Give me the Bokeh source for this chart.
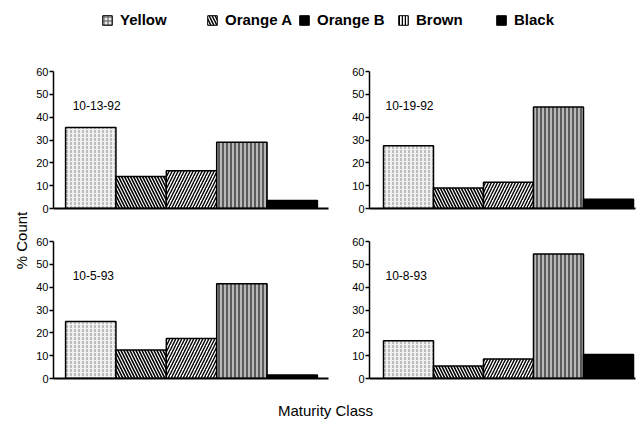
import math
from bokeh.plotting import figure
from bokeh.layouts import column, row
from bokeh.models import Range1d, Label, Legend, LegendItem, FixedTicker
from bokeh.embed import file_html
from bokeh.resources import INLINE

# ---------------- data ----------------
categories = ["Yellow", "Orange A", "Orange B", "Brown", "Black"]
dates = ["10-13-92", "10-19-92", "10-5-93", "10-8-93"]
yellow = [35.5, 27.5, 25, 16.5]
orange_a = [14, 9, 12.5, 5.5]
orange_b = [16.5, 11.5, 17.5, 8.5]
brown = [29, 44.5, 41.5, 54.5]
black = [3.5, 4, 1.5, 10.5]
y_ticks = [0, 10, 20, 30, 40, 50, 60]
y_label = "% Count"
x_label = "Maturity Class"

series = [yellow, orange_a, orange_b, brown, black]

FONT = "Liberation Sans"

styles = [
    dict(fill_color="#f0f0f0", hatch_pattern=":", hatch_color="#8a8a8a", hatch_scale=4, hatch_weight=1),
    dict(fill_color="white", hatch_pattern="\\", hatch_color="black", hatch_scale=6, hatch_weight=1.6),
    dict(fill_color="white", hatch_pattern="/", hatch_color="black", hatch_scale=6, hatch_weight=1.4),
    dict(fill_color="#b8b8b8", hatch_pattern="|", hatch_color="black", hatch_scale=4, hatch_weight=1),
    dict(fill_color="black", hatch_pattern=None),
]
legend_styles = [
    dict(fill_color="#e8e8e8", hatch_pattern="+", hatch_color="#555555", hatch_scale=4, hatch_weight=1),
    dict(fill_color="white", hatch_pattern="\\", hatch_color="black", hatch_scale=6, hatch_weight=1.5),
    dict(fill_color="black", hatch_pattern=None),
    dict(fill_color="white", hatch_pattern="|", hatch_color="black", hatch_scale=3, hatch_weight=1.5),
    dict(fill_color="black", hatch_pattern=None),
]


def blank(w, h, xr=(0, 1), yr=(0, 1)):
    f = figure(width=w, height=h, output_backend="svg", toolbar_location=None,
               x_range=Range1d(*xr), y_range=Range1d(*yr), min_border=0)
    f.axis.visible = False
    f.grid.visible = False
    f.outline_line_color = None
    return f


def panel(idx, w, h, bl, br, bt, bb, xr, label_dx):
    p = figure(width=w, height=h, output_backend="svg", toolbar_location=None,
               x_range=Range1d(*xr), y_range=Range1d(0, 60), min_border=0,
               min_border_left=bl, min_border_right=br,
               min_border_top=bt, min_border_bottom=bb)
    p.outline_line_color = None
    p.grid.visible = False
    p.xaxis.ticker = FixedTicker(ticks=[])
    p.xaxis.major_label_text_font_size = "0px"
    p.xaxis.axis_line_width = 2
    p.xaxis.major_tick_line_color = None
    p.xaxis.minor_tick_line_color = None
    p.yaxis.ticker = FixedTicker(ticks=y_ticks)
    p.yaxis.axis_line_width = 1.5
    p.yaxis.major_tick_in = 0
    p.yaxis.major_tick_out = 4
    p.yaxis.major_tick_line_width = 1.5
    p.yaxis.minor_tick_line_color = None
    p.yaxis.major_label_standoff = 1
    p.yaxis.major_label_text_font = FONT
    p.yaxis.major_label_text_font_size = "11px"
    p.yaxis.major_label_text_color = "black"
    for j, cat in enumerate(categories):
        p.vbar(x=[j], top=[series[j][idx]], bottom=0, width=1,
               line_color="black", line_width=1.5, **styles[j])
    p.add_layout(Label(x=xr[0] + label_dx, y=45, text=dates[idx],
                       text_font=FONT, text_font_size="12px", text_baseline="middle",
                       text_align="left", text_color="black"))
    return p


# ---------------- legend ----------------
lf = blank(641, 50)
legend_x = [101, 206, 298, 397, 495]
for j, cat in enumerate(categories):
    # off-range dummy glyph, used only for its legend swatch
    r = lf.vbar(x=[5], top=[5], width=1, line_color="black", line_width=1, **legend_styles[j])
    leg = Legend(items=[LegendItem(label=cat, renderers=[r])], location=(legend_x[j], 22),
                 orientation="horizontal", padding=0, margin=0,
                 border_line_color=None, background_fill_alpha=0,
                 glyph_width=12, glyph_height=12, label_standoff=7,
                 label_text_font=FONT, label_text_font_size="15px",
                 label_text_font_style="bold", label_text_color="black", label_height=12)
    lf.add_layout(leg)

# ---------------- panels ----------------
xr_left = (-0.74, 4.72)
xr_right = (-0.78, 4.54)
tl = panel(0, 298, 175, 21, 2, 21, 17, xr_left, 0.38)
tr = panel(1, 311, 175, 39, 6, 21, 17, xr_right, 0.32)
bl = panel(2, 298, 165, 21, 2, 16, 12, xr_left, 0.38)
br = panel(3, 311, 165, 39, 6, 16, 12, xr_right, 0.32)

ylab = blank(32, 340)
ylab.add_layout(Label(x=21, y=150, x_units="screen", y_units="screen", text=y_label,
                      angle=math.pi / 2, text_align="center", text_baseline="middle",
                      text_font=FONT, text_font_size="15px", text_color="black"))

bf = blank(641, 36)
bf.add_layout(Label(x=325, y=16, x_units="screen", y_units="screen", text=x_label,
                    text_align="center", text_baseline="middle",
                    text_font=FONT, text_font_size="15px", text_color="black"))

layout = column(lf,
                row(ylab, column(tl, bl, spacing=0), column(tr, br, spacing=0), spacing=0),
                bf, spacing=0)

open("out.html", "w").write(file_html(layout, INLINE))
